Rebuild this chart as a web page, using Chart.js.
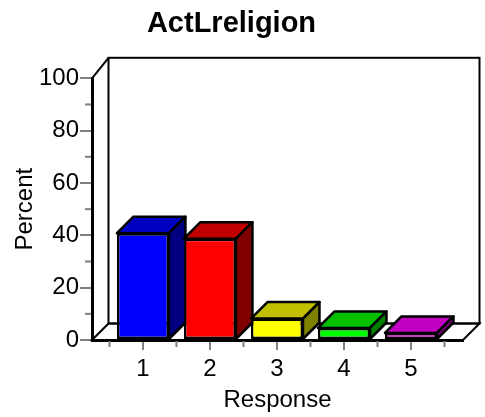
<!DOCTYPE html>
<html>
<head>
<meta charset="utf-8">
<script src="https://cdn.jsdelivr.net/npm/chart.js@4.4.1/dist/chart.umd.min.js"></script>
<style>
  html, body { margin: 0; padding: 0; background: #fff; }
</style>
</head>
<body>
<canvas id="myChart" width="485" height="417"></canvas>
<script>
// chart data
const responses = [1, 2, 3, 4, 5];
const percents = [40.8, 38.7, 8.2, 4.6, 2.7];
const yMinorTicks = [10, 30, 50, 70, 90];
const xMinorTicks = [0.5, 1.5, 2.5, 3.5, 4.5, 5.5];

// colours of the front, top and side faces
const frontColors = ["#0000FF", "#FF0000", "#FFFF00", "#00FF00", "#FF00FF"];
const topColors = ["#0000C0", "#C00000", "#C0C000", "#00C000", "#C000C0"];
const sideColors = ["#000080", "#800000", "#808000", "#008000", "#800080"];

const DEPTH = 16.5;

function poly(ctx, pts, fill) {
    ctx.beginPath();
    ctx.moveTo(pts[0][0], pts[0][1]);
    for (let i = 1; i < pts.length; i++) ctx.lineTo(pts[i][0], pts[i][1]);
    ctx.closePath();
    if (fill) { ctx.fillStyle = fill; ctx.fill(); }
    ctx.stroke();
}

function line(ctx, x1, y1, x2, y2) {
    ctx.beginPath();
    ctx.moveTo(x1, y1);
    ctx.lineTo(x2, y2);
    ctx.stroke();
}

const box3d = {
    id: "box3d",
    beforeDatasetsDraw(chart) {
        const ctx = chart.ctx;
        const a = chart.chartArea;
        const xs = chart.scales.x;
        const ys = chart.scales.y;
        const backTop = a.top - 20.5;
        ctx.save();

        // minor ticks
        ctx.strokeStyle = "#808080";
        ctx.lineWidth = 2;
        yMinorTicks.forEach(v => {
            const y = ys.getPixelForValue(v);
            line(ctx, a.left - 7, y, a.left - 1, y);
        });
        xMinorTicks.forEach(v => {
            const x = xs.getPixelForValue(v);
            line(ctx, x, a.bottom + 1, x, a.bottom + 7);
        });

        // back wall, left wall and floor
        ctx.strokeStyle = "#000";
        ctx.lineWidth = 2;
        ctx.strokeRect(a.left + DEPTH, backTop, a.right - a.left, a.bottom - DEPTH - backTop);
        line(ctx, a.left, a.top, a.left + DEPTH, backTop);
        poly(ctx, [[a.left, a.bottom], [a.left + DEPTH, a.bottom - DEPTH],
                   [a.right + DEPTH, a.bottom - DEPTH], [a.right, a.bottom]]);

        // top and side faces of the bars
        ctx.lineWidth = 2.5;
        ctx.lineJoin = "round";
        const meta = chart.getDatasetMeta(0);
        meta.data.forEach((bar, i) => {
            const p = bar.getProps(["x", "y", "base", "width"], true);
            const l = p.x - p.width / 2, r = p.x + p.width / 2;
            poly(ctx, [[l, p.y], [l + DEPTH, p.y - DEPTH], [r + DEPTH, p.y - DEPTH], [r, p.y]], topColors[i]);
            poly(ctx, [[r, p.y], [r + DEPTH, p.y - DEPTH], [r + DEPTH, p.base - DEPTH], [r, p.base]], sideColors[i]);
        });
        ctx.restore();
    }
};

Chart.defaults.font.family = "'Liberation Sans', Arial, sans-serif";
Chart.defaults.color = "#000";

const ctx = document.getElementById("myChart").getContext("2d");
new Chart(ctx, {
    type: "bar",
    data: {
        datasets: [{
            label: "Percent",
            data: responses.map((r, i) => ({ x: r, y: percents[i] })),
            backgroundColor: frontColors,
            borderColor: "#000",
            borderWidth: 2.5,
            borderSkipped: false,
            categoryPercentage: 1,
            barPercentage: 0.776
        }]
    },
    options: {
        responsive: false,
        animation: false,
        layout: { padding: { top: 0, right: 22, bottom: 0, left: 0 } },
        plugins: {
            legend: { display: false },
            tooltip: { enabled: false },
            title: {
                display: true,
                text: "ActLreligion",
                color: "#000",
                font: { size: 29, weight: "bold" },
                padding: { top: 7, bottom: 36.5 }
            }
        },
        scales: {
            x: {
                type: "linear",
                min: 0.24,
                max: 5.776,
                offset: false,
                afterBuildTicks: s => { s.ticks = responses.map(v => ({ value: v })); },
                afterFit: s => { s.height = 77; },
                ticks: { font: { size: 24 }, color: "#000", padding: 5, callback: v => v },
                grid: { offset: false, drawOnChartArea: false, drawTicks: true, tickLength: 10,
                        color: "#808080", lineWidth: 2 },
                border: { display: true, color: "#000", width: 3 },
                title: { display: true, text: "Response", color: "#000",
                         font: { size: 24 }, padding: { top: 0, bottom: 2 } }
            },
            y: {
                min: 0,
                max: 100,
                afterFit: s => { s.width = 92; },
                ticks: { stepSize: 20, font: { size: 24 }, color: "#000", padding: 1 },
                grid: { drawOnChartArea: false, drawTicks: true, tickLength: 12,
                        color: "#808080", lineWidth: 2 },
                border: { display: true, color: "#000", width: 3 },
                title: { display: true, text: "Percent", color: "#000",
                         font: { size: 24 }, padding: { top: 11, bottom: 0 } }
            }
        }
    },
    plugins: [box3d]
});
</script>
</body>
</html>
